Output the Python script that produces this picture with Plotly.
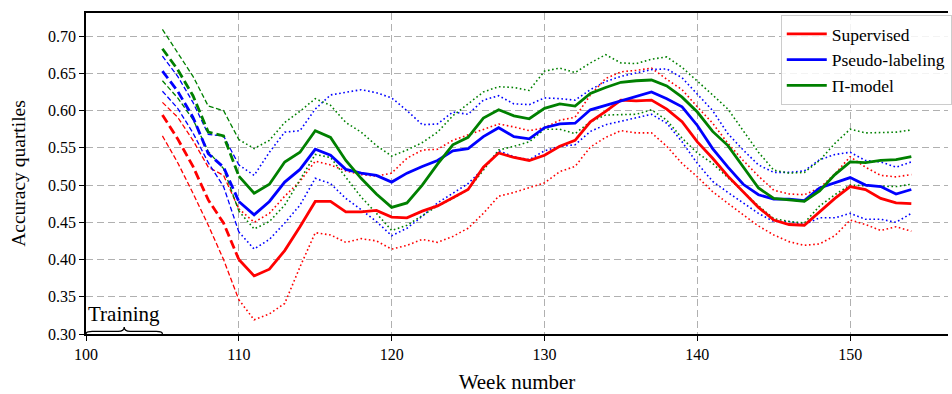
import plotly.graph_objects as go

# Weekly accuracy quartiles (25th / median / 75th percentile) per method
weeks = list(range(105, 155))
train_start, train_end = 100, 105
dashed_until = 110  # early weeks drawn with dashed lines

sup_med = [0.594, 0.562, 0.525, 0.480, 0.449, 0.400, 0.378, 0.387, 0.412, 0.444,
           0.478, 0.478, 0.464, 0.464, 0.466, 0.457, 0.456, 0.465, 0.472, 0.483,
           0.494, 0.524, 0.543, 0.537, 0.533, 0.540, 0.552, 0.560, 0.585, 0.599,
           0.614, 0.613, 0.614, 0.602, 0.585, 0.558, 0.536, 0.512, 0.491, 0.470,
           0.453, 0.447, 0.446, 0.464, 0.482, 0.498, 0.494, 0.482, 0.476, 0.475]
sup_hi = [0.611, 0.591, 0.560, 0.524, 0.513, 0.468, 0.450, 0.462, 0.485, 0.505,
          0.532, 0.527, 0.519, 0.514, 0.512, 0.516, 0.536, 0.547, 0.548, 0.560,
          0.567, 0.574, 0.582, 0.578, 0.573, 0.577, 0.587, 0.591, 0.621, 0.643,
          0.652, 0.654, 0.657, 0.642, 0.628, 0.605, 0.583, 0.556, 0.533, 0.512,
          0.493, 0.488, 0.487, 0.496, 0.515, 0.538, 0.524, 0.513, 0.511, 0.514]
sup_lo = [0.566, 0.530, 0.489, 0.446, 0.400, 0.346, 0.319, 0.327, 0.341, 0.390,
          0.436, 0.433, 0.423, 0.428, 0.425, 0.414, 0.419, 0.427, 0.423, 0.431,
          0.442, 0.462, 0.485, 0.490, 0.497, 0.503, 0.518, 0.525, 0.551, 0.564,
          0.573, 0.570, 0.570, 0.552, 0.529, 0.511, 0.491, 0.475, 0.460, 0.445,
          0.433, 0.424, 0.419, 0.421, 0.432, 0.453, 0.447, 0.439, 0.444, 0.438]

pl_med = [0.653, 0.626, 0.591, 0.542, 0.524, 0.478, 0.460, 0.478, 0.504, 0.521,
          0.548, 0.540, 0.521, 0.516, 0.513, 0.504, 0.516, 0.525, 0.533, 0.546,
          0.549, 0.565, 0.577, 0.565, 0.562, 0.577, 0.582, 0.583, 0.601, 0.607,
          0.613, 0.618, 0.625, 0.616, 0.605, 0.580, 0.549, 0.524, 0.501, 0.487,
          0.481, 0.481, 0.479, 0.496, 0.503, 0.510, 0.500, 0.498, 0.488, 0.494]
pl_hi = [0.673, 0.646, 0.611, 0.568, 0.566, 0.527, 0.513, 0.544, 0.571, 0.573,
         0.602, 0.621, 0.624, 0.628, 0.624, 0.617, 0.600, 0.581, 0.582, 0.598,
         0.595, 0.614, 0.620, 0.609, 0.608, 0.617, 0.616, 0.614, 0.628, 0.639,
         0.646, 0.651, 0.655, 0.656, 0.644, 0.622, 0.600, 0.569, 0.547, 0.527,
         0.517, 0.517, 0.519, 0.534, 0.541, 0.544, 0.533, 0.531, 0.524, 0.531]
pl_lo = [0.626, 0.603, 0.570, 0.530, 0.498, 0.437, 0.414, 0.427, 0.449, 0.473,
         0.509, 0.502, 0.482, 0.467, 0.451, 0.432, 0.442, 0.458, 0.476, 0.489,
         0.502, 0.522, 0.546, 0.538, 0.534, 0.546, 0.552, 0.554, 0.572, 0.581,
         0.586, 0.590, 0.595, 0.583, 0.558, 0.529, 0.505, 0.490, 0.476, 0.462,
         0.451, 0.451, 0.447, 0.456, 0.456, 0.462, 0.454, 0.454, 0.450, 0.462]

pi_med = [0.683, 0.655, 0.620, 0.571, 0.566, 0.512, 0.489, 0.501, 0.531, 0.544,
          0.573, 0.564, 0.533, 0.509, 0.488, 0.470, 0.476, 0.500, 0.528, 0.554,
          0.564, 0.590, 0.601, 0.593, 0.589, 0.603, 0.609, 0.606, 0.623, 0.631,
          0.638, 0.640, 0.641, 0.633, 0.618, 0.598, 0.572, 0.553, 0.524, 0.496,
          0.482, 0.480, 0.478, 0.492, 0.514, 0.531, 0.530, 0.533, 0.534, 0.538]
pi_hi = [0.709, 0.678, 0.646, 0.606, 0.600, 0.561, 0.549, 0.560, 0.584, 0.599,
         0.616, 0.607, 0.584, 0.571, 0.553, 0.539, 0.547, 0.557, 0.571, 0.593,
         0.609, 0.625, 0.632, 0.631, 0.627, 0.653, 0.657, 0.651, 0.664, 0.675,
         0.664, 0.663, 0.669, 0.672, 0.658, 0.640, 0.621, 0.602, 0.573, 0.544,
         0.520, 0.516, 0.517, 0.533, 0.556, 0.575, 0.570, 0.570, 0.571, 0.574]
pi_lo = [0.640, 0.617, 0.588, 0.545, 0.522, 0.465, 0.441, 0.451, 0.473, 0.507,
         0.541, 0.537, 0.511, 0.484, 0.462, 0.439, 0.446, 0.459, 0.472, 0.482,
         0.494, 0.520, 0.547, 0.552, 0.558, 0.575, 0.575, 0.569, 0.585, 0.594,
         0.594, 0.595, 0.601, 0.587, 0.563, 0.543, 0.529, 0.510, 0.490, 0.472,
         0.455, 0.451, 0.449, 0.472, 0.487, 0.500, 0.499, 0.499, 0.498, 0.501]

methods = [
    ("Supervised", "#ff0000", sup_lo, sup_med, sup_hi),
    ("Pseudo-labeling", "#0000ff", pl_lo, pl_med, pl_hi),
    ("\u03a0-model", "#008000", pi_lo, pi_med, pi_hi),
]

SERIF = "Liberation Serif, Times New Roman, serif"
cut = weeks.index(dashed_until)
w_early, w_late = weeks[:cut + 1], weeks[cut:]

fig = go.Figure()
for name, color, lo, med, hi in methods:
    for q in (lo, hi):
        fig.add_trace(go.Scatter(x=w_early, y=q[:cut + 1], mode="lines", showlegend=False,
                                 line=dict(color=color, width=1.3, dash="5px,2.5px"),
                                 hoverinfo="skip"))
        fig.add_trace(go.Scatter(x=w_late, y=q[cut:], mode="lines", showlegend=False,
                                 line=dict(color=color, width=1.6, dash="1.6px,2.6px"),
                                 hoverinfo="skip"))
for name, color, lo, med, hi in methods:
    fig.add_trace(go.Scatter(x=w_early, y=med[:cut + 1], mode="lines", showlegend=False,
                             legendgroup=name,
                             line=dict(color=color, width=2.8, dash="9px,4px")))
    fig.add_trace(go.Scatter(x=w_late, y=med[cut:], mode="lines", name=name,
                             legendgroup=name, line=dict(color=color, width=2.8)))

# Curly brace marking the training window
mid = (train_start + train_end) / 2
yb, yl, yt = 0.300, 0.3035, 0.3095
brace = (f"M {train_start},{yb} Q {train_start},{yl} {train_start + 0.4},{yl} "
         f"L {mid - 0.4},{yl} Q {mid},{yl} {mid},{yt} "
         f"Q {mid},{yl} {mid + 0.4},{yl} L {train_end - 0.4},{yl} "
         f"Q {train_end},{yl} {train_end},{yb}")
fig.add_shape(type="path", path=brace, xref="x", yref="y",
              line=dict(color="black", width=1.3))
fig.add_annotation(x=mid, y=yt, xref="x", yref="y", text="Training", showarrow=False,
                   yanchor="bottom", yshift=-1, font=dict(family=SERIF, size=21, color="black"))

axis_common = dict(showline=True, linecolor="black", linewidth=1.5,
                   ticks="outside", ticklen=5, tickwidth=1.2, tickcolor="black",
                   showgrid=True, gridcolor="#b0b0b0", gridwidth=1.2, griddash="7px,4px",
                   zeroline=False, tickfont=dict(family=SERIF, size=16, color="black"))

fig.update_layout(
    width=952, height=394,
    margin=dict(l=86, r=0, t=13, b=60),
    paper_bgcolor="white", plot_bgcolor="white",
    xaxis=dict(range=[100, 156.4], tickvals=[100, 110, 120, 130, 140, 150],
               mirror=True,
               title=dict(text="Week number", font=dict(family=SERIF, size=21, color="black"),
                          standoff=12),
               **axis_common),
    yaxis=dict(range=[0.30, 0.731], tickvals=[0.30, 0.35, 0.40, 0.45, 0.50, 0.55, 0.60, 0.65, 0.70],
               tickformat=".2f", mirror=False,
               title=dict(text="Accuracy quartiles", font=dict(family=SERIF, size=19.5, color="black"),
                          standoff=17),
               **axis_common),
    legend=dict(x=0.806, y=0.994, xanchor="left", yanchor="top",
                bgcolor="rgba(255,255,255,0.85)", bordercolor="#cccccc", borderwidth=1,
                font=dict(family=SERIF, size=17.5, color="black"), tracegroupgap=0,
                itemwidth=40),
    showlegend=True,
)

fig.write_html("out.html")
